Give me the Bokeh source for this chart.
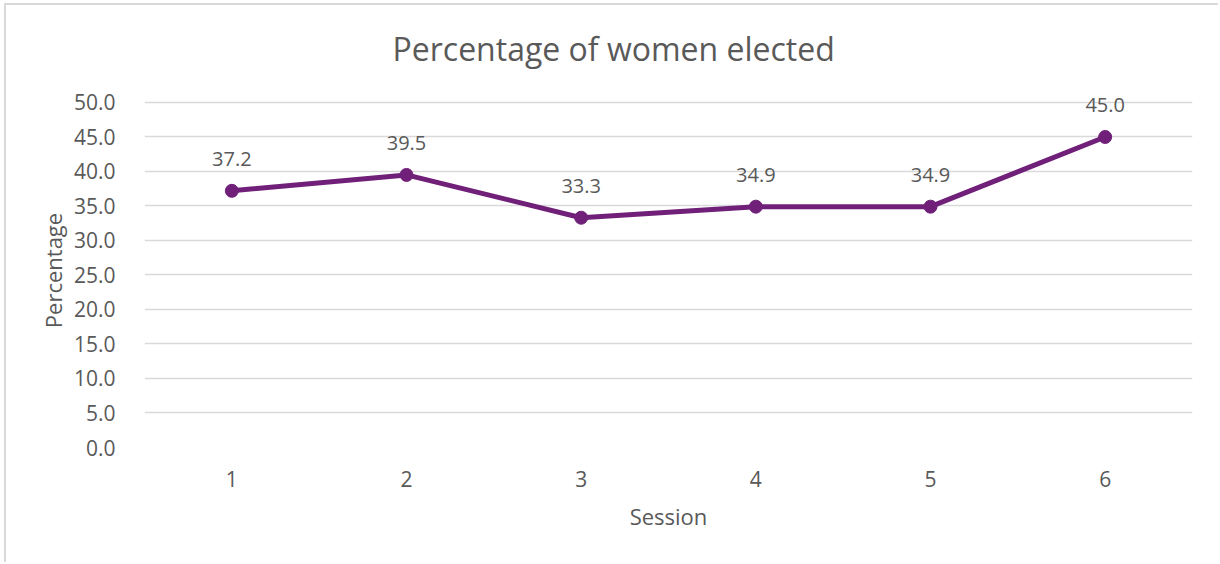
from bokeh.plotting import figure
from bokeh.models import ColumnDataSource, FixedTicker, Range1d, NumeralTickFormatter
from bokeh.core.properties import value
from bokeh.embed import file_html
from bokeh.resources import INLINE

sessions = [1, 2, 3, 4, 5, 6]
percentages = [37.2, 39.5, 33.3, 34.9, 34.9, 45.0]
y_ticks = [0, 5, 10, 15, 20, 25, 30, 35, 40, 45, 50]
title_text = "Percentage of women elected"
x_title = "Session"
y_title = "Percentage"

PURPLE = "#702079"
TXT = "#595959"
GRID = "#d9d9d9"
FONT = "Open Sans"

src = ColumnDataSource(dict(x=sessions, y=percentages,
                            lab=[f"{v:.1f}" for v in percentages]))

p = figure(width=1214, height=559, output_backend="svg", toolbar_location=None,
           x_range=Range1d(0.5, 6.5), y_range=Range1d(0, 51.3),
           min_border_left=138, min_border_right=28,
           min_border_top=88, min_border_bottom=117)
p.styles = {"margin-left": "4px", "margin-top": "3px",
            "border-left": f"2px solid {GRID}", "border-top": f"2px solid {GRID}"}
p.outline_line_color = None
p.background_fill_color = "white"
p.border_fill_color = "white"

p.title.text = title_text
p.title.align = "left"
p.title.offset = 248
p.title.standoff = 43
p.title.vertical_align = "top"
p.title.text_font = FONT
p.title.text_font_size = "32px"
p.title.text_font_style = "normal"
p.title.text_color = TXT

p.xgrid.grid_line_color = None
p.ygrid.grid_line_color = GRID
p.ygrid.grid_line_width = 1.5

p.yaxis.ticker = FixedTicker(ticks=y_ticks)
p.yaxis.formatter = NumeralTickFormatter(format="0.0")
p.xaxis.ticker = FixedTicker(ticks=sessions)
for ax in (p.xaxis, p.yaxis):
    ax.axis_line_color = None
    ax.major_tick_line_color = None
    ax.minor_tick_line_color = None
    ax.major_label_text_font = FONT
    ax.major_label_text_font_size = "21px"
    ax.major_label_text_color = TXT
    ax.axis_label_text_font = FONT
    ax.axis_label_text_font_size = "22px"
    ax.axis_label_text_color = TXT
    ax.axis_label_text_font_style = "normal"
p.yaxis.major_label_standoff = 23
p.xaxis.major_label_standoff = 17
p.yaxis.axis_label = y_title
p.xaxis.axis_label = x_title
p.yaxis.axis_label_standoff = 3
p.xaxis.axis_label_standoff = 11

p.line("x", "y", source=src, line_color=PURPLE, line_width=5)
p.scatter("x", "y", source=src, size=13, fill_color=PURPLE, line_color=PURPLE)

p.text("x", "y", text="lab", source=src, y_offset=-32,
       text_align="center", text_baseline="middle",
       text_font=value(FONT), text_font_size="20px", text_color=TXT)

open("out.html", "w").write(file_html(p, INLINE))
